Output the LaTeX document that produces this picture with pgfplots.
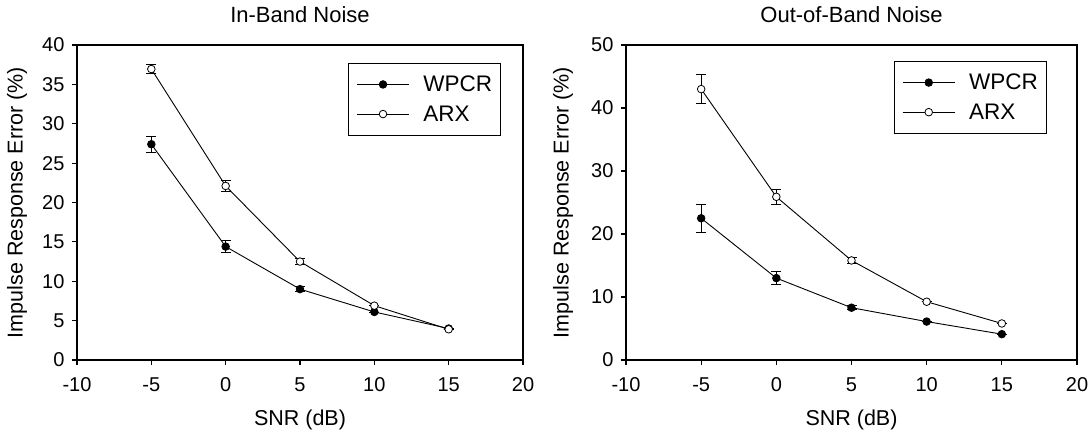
\documentclass[border=0pt]{standalone}
\usepackage{fontspec}
\setmainfont{Liberation Sans}
\usepackage{pgfplots}
\pgfplotsset{compat=1.18}
\usepackage{pgfplotstable}

\pgfplotstableread{
x y e
-5 27.4 1.0
0 14.4 0.8
5 9.0 0.3
10 6.1 0.0
15 4.0 0.0
}\inwpcr
\pgfplotstableread{
x y e
-5 36.95 0.55
0 22.1 0.75
5 12.5 0.4
10 6.9 0.0
15 3.9 0.0
}\inarx
\pgfplotstableread{
x y e
-5 22.5 2.2
0 13.0 1.0
5 8.3 0.3
10 6.1 0.0
15 4.1 0.0
}\outwpcr
\pgfplotstableread{
x y e
-5 43.0 2.3
0 25.9 1.15
5 15.8 0.4
10 9.25 0.0
15 5.8 0.0
}\outarx

\pgfplotsset{
  myaxis/.style={
    scale only axis, height=315pt,
    xmin=-10, xmax=20, xtick={-10,-5,0,5,10,15,20},
    axis line style={line width=1.1pt, black},
    every tick/.style={line width=1.1pt, black},
    xtick pos=lower, ytick pos=left,
    tick align=outside, major tick length=5pt,
    /pgf/number format/assume math mode=true,
    tick label style={font=\fontsize{20}{20}\selectfont},
    yticklabel style={xshift=-4pt},
    xticklabel style={yshift=-9pt},
    label style={font=\fontsize{21.5}{22}\selectfont},
    xlabel style={at={(axis description cs:0.5,-0.2095)}, anchor=base},
    title style={font=\fontsize{22}{22}\selectfont, at={(axis description cs:0.5,1.053)}, anchor=base},
    legend style={draw=black, line width=0.8pt, anchor=north west,
      inner xsep=8pt, inner ysep=12.5pt,
      nodes={inner sep=0pt, font=\fontsize{22.5}{23}\selectfont},
      row sep=12.5pt, cells={anchor=west},
      /tikz/every odd column/.append style={column sep=14pt}},
    legend image code/.code={\draw[mark repeat=2,mark phase=2,#1] plot coordinates {(0pt,0pt) (26pt,0pt) (52pt,0pt)};},
    every axis plot/.append style={black, line width=0.9pt},
    error bars/y dir=both, error bars/y explicit,
    error bars/error bar style={line width=0.9pt, black},
    error bars/error mark options={rotate=90, mark size=5pt, line width=0.9pt, black},
  },
  wpcr/.style={mark=*, mark size=3.8pt, mark options={fill=black, draw=black, line width=0.8pt}},
  arx/.style={mark=*, mark size=3.8pt, mark options={fill=white, draw=black, line width=0.8pt}},
}

\begin{document}
\begin{tikzpicture}
\path[use as bounding box] (0pt,0pt) rectangle (1092pt,434pt);
\begin{axis}[myaxis, at={(77pt,74pt)}, anchor=south west, width=446pt,
  ymin=0, ymax=40, ytick={0,5,...,40},
  title={In-Band Noise},
  xlabel={SNR (dB)}, ylabel={Impulse Response Error (\%)},
  ylabel style={at={(axis description cs:-0.1345,0.5)}, anchor=center},
  legend style={at={(0.608,0.943)}}]
\addplot[wpcr] table[x=x, y=y, y error=e] {\inwpcr};
\addlegendentry{WPCR}
\addplot[arx] table[x=x, y=y, y error=e] {\inarx};
\addlegendentry{ARX}
\end{axis}
\begin{axis}[myaxis, at={(626pt,74pt)}, anchor=south west, width=451pt,
  ymin=0, ymax=50, ytick={0,10,...,50},
  title={Out-of-Band Noise},
  xlabel={SNR (dB)}, ylabel={Impulse Response Error (\%)},
  ylabel style={at={(axis description cs:-0.1397,0.5)}, anchor=center},
  legend style={at={(0.594,0.949)}}]
\addplot[wpcr] table[x=x, y=y, y error=e] {\outwpcr};
\addlegendentry{WPCR}
\addplot[arx] table[x=x, y=y, y error=e] {\outarx};
\addlegendentry{ARX}
\end{axis}
\end{tikzpicture}
\end{document}
